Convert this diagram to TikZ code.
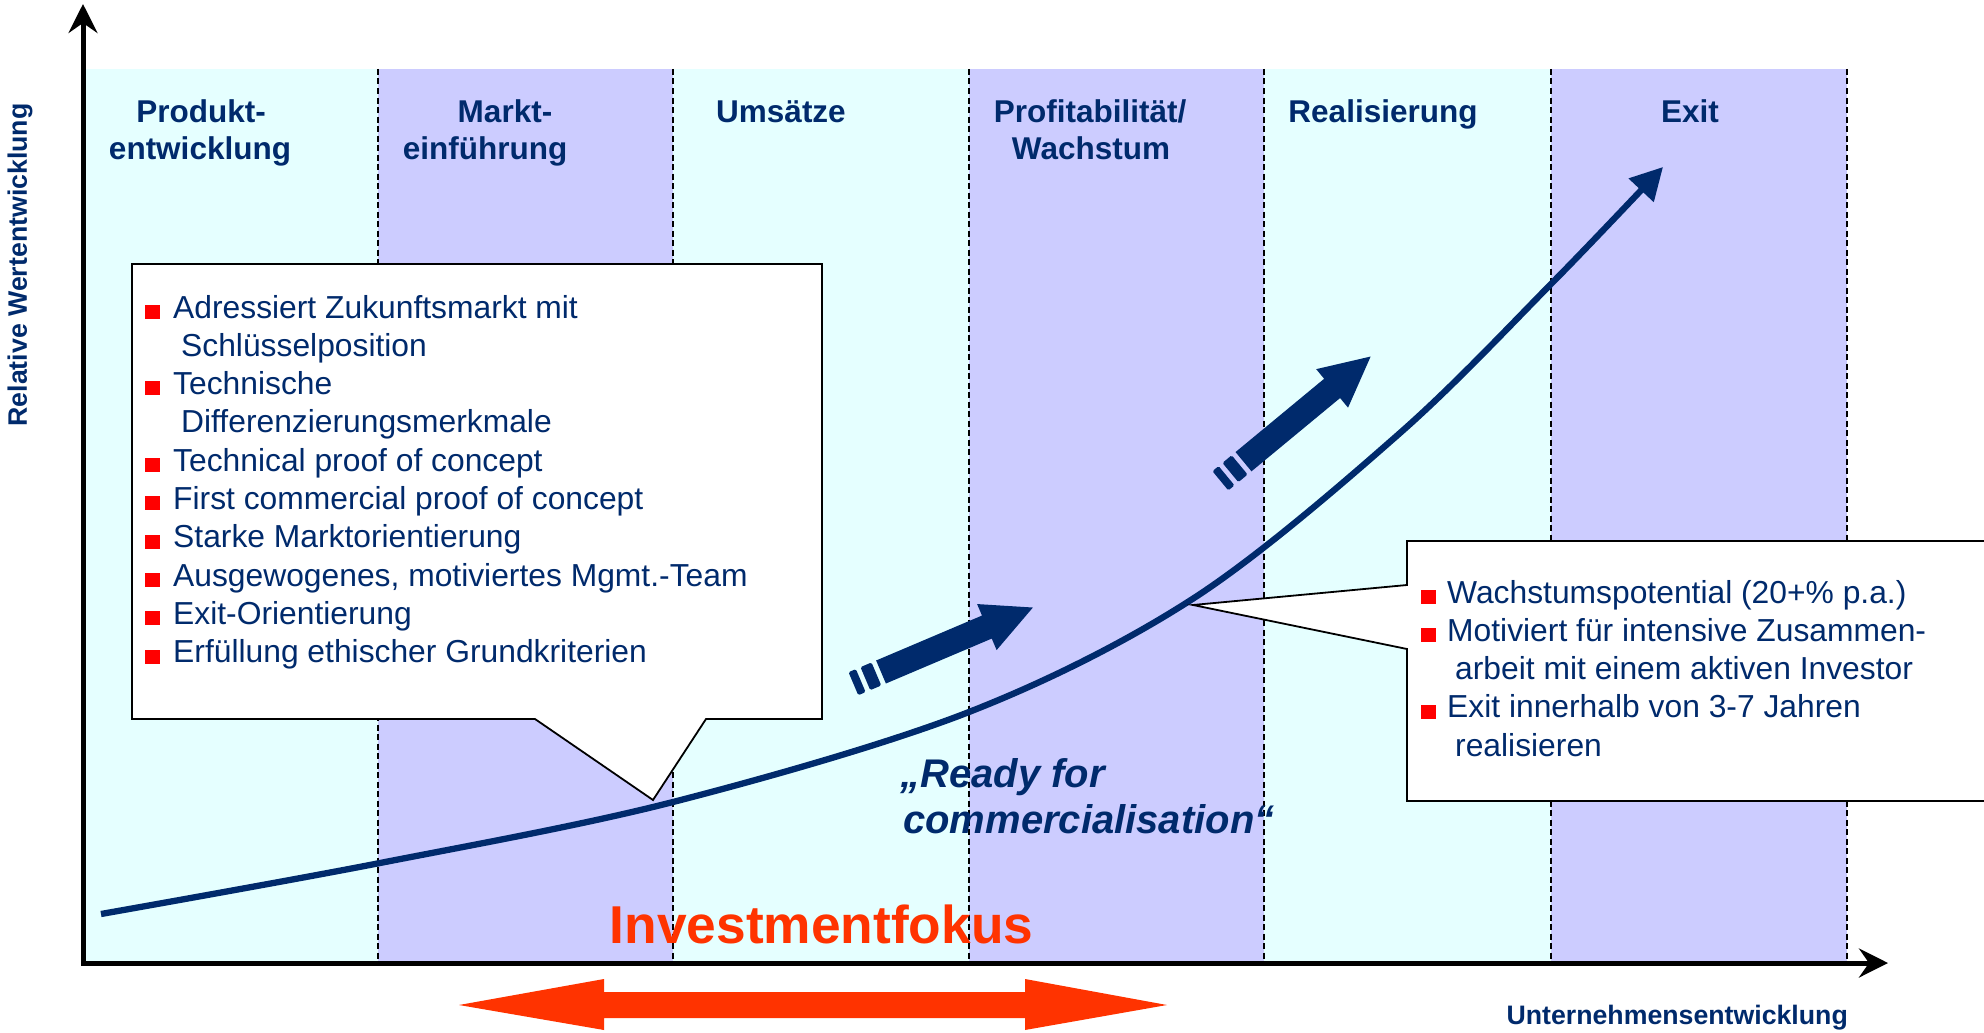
\documentclass[tikz,border=0pt]{standalone}
\usepackage{fontspec}
\setmainfont{Liberation Sans}
\usetikzlibrary{arrows.meta}
\definecolor{navy}{RGB}{0,42,108}
\definecolor{cyanb}{RGB}{229,255,255}
\definecolor{lavb}{RGB}{204,204,255}
\definecolor{bulred}{RGB}{255,0,0}
\definecolor{orng}{RGB}{255,51,0}
\begin{document}
\begin{tikzpicture}[x=1pt,y=-1pt,
  hdr/.style={font=\fontsize{31.5}{37.6}\selectfont\bfseries, text=navy, anchor=base, inner sep=0pt},
  itm/.style={font=\fontsize{31.8}{38}\selectfont, text=navy, anchor=base west, inner sep=0pt},
  bul/.style={fill=bulred, minimum width=15pt, minimum height=14pt, inner sep=0pt, anchor=south west},
  ready/.style={font=\fontsize{40}{46}\selectfont\bfseries\itshape, text=navy, anchor=base west, inner sep=0pt},
  axlbl/.style={font=\fontsize{26.7}{30}\selectfont\bfseries, text=navy, inner sep=0pt},
  dashln/.style={black, line width=2pt, dash pattern=on 6pt off 3.5pt},
  axisln/.style={black, line width=5pt, -{Stealth[length=29pt,width=29pt,inset=10pt]}},
  callout/.style={draw=black, line width=1.8pt, fill=white, line join=miter},
  blockarrow/.style={fill=navy}
]
\useasboundingbox (0,0) rectangle (1984,1033);
\clip (0,0) rectangle (1984,1033);
\fill[white] (0,0) rectangle (1984,1033);

% bands
\fill[cyanb] (85,69) rectangle (378,963);
\fill[lavb] (378,69) rectangle (673,963);
\fill[cyanb] (673,69) rectangle (969,963);
\fill[lavb] (969,69) rectangle (1264,963);
\fill[cyanb] (1264,69) rectangle (1551,963);
\fill[lavb] (1551,69) rectangle (1847,963);
\foreach \xx in {378,673,969,1264,1551,1847}
  \draw[dashln] (\xx,69) -- (\xx,960);

% headers
\node[hdr] (h1a) at (201,122) {Produkt-};
\node[hdr] (h1b) at (200,159.5) {entwicklung};
\node[hdr] (h2a) at (505,122) {Markt-};
\node[hdr] (h2b) at (485,159.5) {einführung};
\node[hdr] (h3) at (781,122) {Umsätze};
\node[hdr] (h4a) at (1090,122) {Profitabilität/};
\node[hdr] (h4b) at (1091,159.5) {Wachstum};
\node[hdr] (h5) at (1383,122) {Realisierung};
\node[hdr] (h6) at (1690,122) {Exit};

% curve
\draw[navy, line width=6.3pt, -{Triangle[length=32pt,width=33pt]}]
  plot[smooth, tension=0.55] coordinates {(101,914) (380,863) (673,802) (969,712) (1194,598) (1400,433) (1552,283) (1663,167)};

% block arrows
\begin{scope}[shift={(881,672)}, rotate=23]
  \fill[blockarrow] (0,-12.5) -- (115,-12.5) -- (115,-25) -- (165,0) -- (115,25) -- (115,12.5) -- (0,12.5) -- cycle;
  \fill[blockarrow, rounded corners=1.5pt] (-17,-12.5) rectangle (-5,12.5);
  \fill[blockarrow, rounded corners=1.5pt] (-30,-12.5) rectangle (-22,12.5);
\end{scope}
\begin{scope}[shift={(1243.5,461.7)}, rotate=39.6]
  \fill[blockarrow] (0,-12.5) -- (115,-12.5) -- (115,-25) -- (165,0) -- (115,25) -- (115,12.5) -- (0,12.5) -- cycle;
  \fill[blockarrow, rounded corners=1.5pt] (-17,-12.5) rectangle (-5,12.5);
  \fill[blockarrow, rounded corners=1.5pt] (-30,-12.5) rectangle (-22,12.5);
\end{scope}

% left callout
\coordinate (lt) at (653,800);
\draw[callout] (132,264) -- (822,264) -- (822,719) -- (706,719) -- (lt) -- (535,719) -- (132,719) -- cycle;
\node[bul] (lb1) at (145,319) {};
\node[itm] (l1) at (173,318) {Adressiert Zukunftsmarkt mit};
\node[itm] (l2) at (181,356.3) {Schlüsselposition};
\node[bul] (lb2) at (145,395.6) {};
\node[itm] (l3) at (173,394.6) {Technische};
\node[itm] (l4) at (181,432.9) {Differenzierungsmerkmale};
\node[bul] (lb3) at (145,472.2) {};
\node[itm] (l5) at (173,471.2) {Technical proof of concept};
\node[bul] (lb4) at (145,510.5) {};
\node[itm] (l6) at (173,509.5) {First commercial proof of concept};
\node[bul] (lb5) at (145,548.8) {};
\node[itm] (l7) at (173,547.8) {Starke Marktorientierung};
\node[bul] (lb6) at (145,587.1) {};
\node[itm] (l8) at (173,586.1) {Ausgewogenes, motiviertes Mgmt.-Team};
\node[bul] (lb7) at (145,625.4) {};
\node[itm] (l9) at (173,624.4) {Exit-Orientierung};
\node[bul] (lb8) at (145,663.7) {};
\node[itm] (l10) at (173,662.7) {Erfüllung ethischer Grundkriterien};

% right callout
\coordinate (rt) at (1193,605);
\draw[callout] (1407,541) -- (1995,541) -- (1995,801) -- (1407,801) -- (1407,649) -- (rt) -- (1407,585) -- cycle;
\node[bul] (rb1) at (1421,604) {};
\node[itm] (r1) at (1447,603) {Wachstumspotential (20+\% p.a.)};
\node[bul] (rb2) at (1421,642.3) {};
\node[itm] (r2) at (1447,641.3) {Motiviert für intensive Zusammen-};
\node[itm] (r3) at (1455,679.6) {arbeit mit einem aktiven Investor};
\node[bul] (rb3) at (1421,718.9) {};
\node[itm] (r4) at (1447,717.9) {Exit innerhalb von 3-7 Jahren};
\node[itm] (r5) at (1455,756.2) {realisieren};

% ready text
\node[ready] (rd1) at (900,787) {„Ready for};
\node[ready] (rd2) at (903,833) {commercialisation“};

% axes
\draw[axisln] (83,965) -- (83,4);
\draw[axisln] (81,963) -- (1888,963);

% investment focus
\node[font=\fontsize{53.3}{60}\selectfont\bfseries, text=orng, anchor=base, inner sep=0pt] (inv) at (821.5,943) {Investmentfokus};
\fill[orng] (459,1005) -- (604,979) -- (604,992) -- (1025,992) -- (1025,979) -- (1167,1005) -- (1025,1030) -- (1025,1018) -- (604,1018) -- (604,1030) -- cycle;

% axis labels
\node[axlbl, anchor=base east] (xl) at (1848,1024) {Unternehmensentwicklung};
\node[axlbl, rotate=90] (yl) at (20,265) {Relative Wertentwicklung};
\end{tikzpicture}
\end{document}
